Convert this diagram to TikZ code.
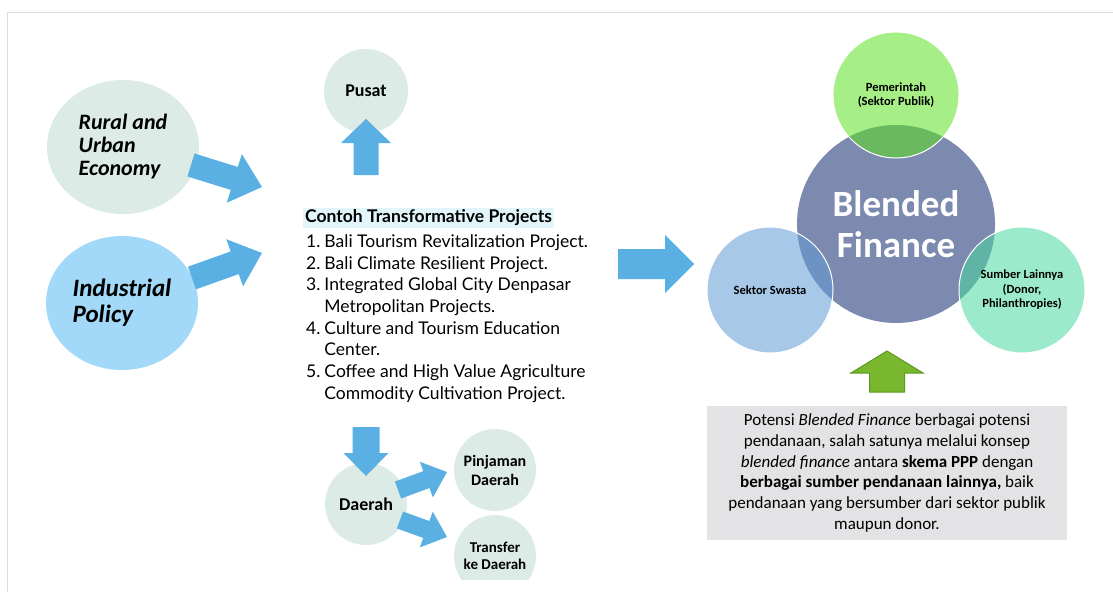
\documentclass[tikz,border=0pt]{standalone}
\usepackage{fontspec}
\setmainfont{Carlito}
\newfontfamily\listfont{Lato}
\usetikzlibrary{calc,shapes.geometric}

\definecolor{arrowblue}{HTML}{5AB0E2}
\definecolor{palegreen}{HTML}{DCEBE5}
\definecolor{skyblue}{HTML}{A2D8F8}
\definecolor{slate}{HTML}{7B8AAE}
\definecolor{pemgreen}{RGB}{93,224,35}
\definecolor{swastablue}{RGB}{96,155,213}
\definecolor{sumbermint}{RGB}{73,216,160}
\definecolor{arrowgreen}{HTML}{79B72E}
\definecolor{arrowgreendark}{HTML}{5B9A1F}
\definecolor{boxgray}{HTML}{E3E3E5}
\definecolor{hilite}{HTML}{E1F5FA}
\definecolor{framegray}{HTML}{DDDDDD}

\tikzset{
  bshaft/.store in=\bshaft, bhead/.store in=\bhead, blen/.store in=\blen,
  bshaft=12pt, bhead=25pt, blen=28pt,
  blockarrow/.style={fill=arrowblue, draw=none, to path={
      ($(\tikztostart)!\bshaft!90:(\tikztotarget)$)
      -- ($(\tikztotarget)!\blen!(\tikztostart)!\bshaft!-90:(\tikztostart)$)
      -- ($(\tikztotarget)!\blen!(\tikztostart)!\bhead!-90:(\tikztostart)$)
      -- (\tikztotarget)
      -- ($(\tikztotarget)!\blen!(\tikztostart)!\bhead!90:(\tikztostart)$)
      -- ($(\tikztotarget)!\blen!(\tikztostart)!\bshaft!90:(\tikztostart)$)
      -- ($(\tikztostart)!\bshaft!-90:(\tikztotarget)$)
      -- cycle}},
  bubble/.style={circle, fill=palegreen, inner sep=0pt, align=center,
    font=\bfseries\fontsize{18}{20}\selectfont},
  smallbubble/.style={bubble, minimum size=82pt,
    font=\bfseries\fontsize{16}{19}\selectfont},
  topic/.style={ellipse, inner sep=0pt, minimum width=152pt, minimum height=134pt,
    align=left},
  partner/.style={circle, minimum size=126pt, inner sep=0pt, draw=white, line width=1pt,
    fill opacity=0.55, text opacity=1, align=center,
    font=\bfseries\fontsize{12.5}{14.5}\selectfont}
}

\begin{document}
\begin{tikzpicture}[x=1pt,y=-1pt]
  \useasboundingbox (0,0) rectangle (1113,592);
  \draw[framegray] (7,592) -- (7,12) -- (1113,12);

  % left topics
  \node[topic, fill=palegreen, font=\bfseries\itshape\fontsize{22}{23}\selectfont]
    (rural) at (123,147) {Rural and\\Urban\\Economy};
  \node[topic, fill=skyblue, font=\bfseries\itshape\fontsize{25}{26}\selectfont]
    (industri) at (122,303) {Industrial\\Policy};

  % projects
  \node[anchor=west, fill=hilite, inner sep=2pt,
    font=\listfont\bfseries\fontsize{17.5}{20}\selectfont]
    (judul) at (303,218) {Contoh Transformative Projects};
  \node[anchor=north west, inner sep=0pt, font=\listfont\fontsize{17.5}{21.7}\selectfont]
    (proj) at (306,232) {%
    \begin{tabular}{@{}l@{\hspace{4pt}}l@{}}
      1. & Bali Tourism Revitalization Project.\\
      2. & Bali Climate Resilient Project.\\
      3. & Integrated Global City Denpasar\\
         & Metropolitan Projects.\\
      4. & Culture and Tourism Education\\
         & Center.\\
      5. & Coffee and High Value Agriculture\\
         & Commodity Cultivation Project.
    \end{tabular}};

  % pusat / daerah
  \node[bubble, minimum size=84pt] (pusat) at (366,91) {Pusat};
  \node[bubble, minimum size=82pt] (daerah) at (366,504) {Daerah};
  \node[smallbubble] (pinjaman) at (495,470) {Pinjaman\\Daerah};
  \begin{scope}
    \clip (0,0) rectangle (1113,579);
    \node[smallbubble, font=\bfseries\fontsize{15}{17}\selectfont]
      (transfer) at (495,556) {Transfer\\ke Daerah};
  \end{scope}

  % arrow ends
  \coordinate (rural-out) at (191,165);
  \coordinate (rural-in) at (262,187);
  \coordinate (industri-out) at (192,278);
  \coordinate (industri-in) at (262,253);
  \coordinate (pusat-out) at (366,175);
  \coordinate (pusat-in) at (366,119);
  \coordinate (daerah-out) at (366,427);
  \coordinate (daerah-in) at (366,476);
  \coordinate (pinjaman-out) at (398,490);
  \coordinate (pinjaman-in) at (447,472);
  \coordinate (transfer-out) at (400,520);
  \coordinate (transfer-in) at (447,537);
  \coordinate (blended-out) at (618,264);
  \coordinate (blended-in) at (694,264);
  \coordinate (potensi-out) at (887,392);
  \coordinate (potensi-in) at (887,351);

  \fill[blockarrow, bshaft=12pt, bhead=25.5pt, blen=29pt] (rural-out) to (rural-in);
  \fill[blockarrow, bshaft=12pt, bhead=25pt, blen=29pt] (industri-out) to (industri-in);
  \fill[blockarrow, bshaft=12.5pt, bhead=25pt, blen=24pt] (pusat-out) to (pusat-in);
  \fill[blockarrow, bshaft=13.5pt, bhead=22.5pt, blen=23pt] (daerah-out) to (daerah-in);
  \fill[blockarrow, bshaft=9pt, bhead=19pt, blen=22pt] (pinjaman-out) to (pinjaman-in);
  \fill[blockarrow, bshaft=9pt, bhead=19pt, blen=22pt] (transfer-out) to (transfer-in);
  \fill[blockarrow, bshaft=15pt, bhead=29pt, blen=29pt] (blended-out) to (blended-in);

  % blended finance
  \node[circle, fill=slate, minimum size=198pt, inner sep=0pt, align=center, text=white,
    font=\bfseries\fontsize{37}{41}\selectfont] (blended) at (896,224) {Blended\\Finance};
  \node[partner, fill=pemgreen] (pemerintah) at (896,95) {Pemerintah\\(Sektor Publik)};
  \node[partner, fill=swastablue] (swasta) at (770,290) {Sektor Swasta};
  \node[partner, fill=sumbermint] (sumber) at (1022,290) {Sumber Lainnya\\(Donor,\\Philanthropies)};

  \filldraw[blockarrow, fill=arrowgreen, draw=arrowgreendark, line width=1pt,
    bshaft=17.5pt, bhead=36pt, blen=22pt] (potensi-out) to (potensi-in);

  \node[fill=boxgray, minimum width=360pt, minimum height=134pt, align=center,
    font=\fontsize{17}{20.7}\selectfont] (potensi) at (887,473)
    {Potensi \textit{Blended Finance} berbagai potensi\\
     pendanaan, salah satunya melalui konsep\\
     \textit{blended finance} antara \textbf{skema PPP} dengan\\
     \textbf{berbagai sumber pendanaan lainnya,} baik\\
     pendanaan yang bersumber dari sektor publik\\
     maupun donor.};
\end{tikzpicture}
\end{document}
